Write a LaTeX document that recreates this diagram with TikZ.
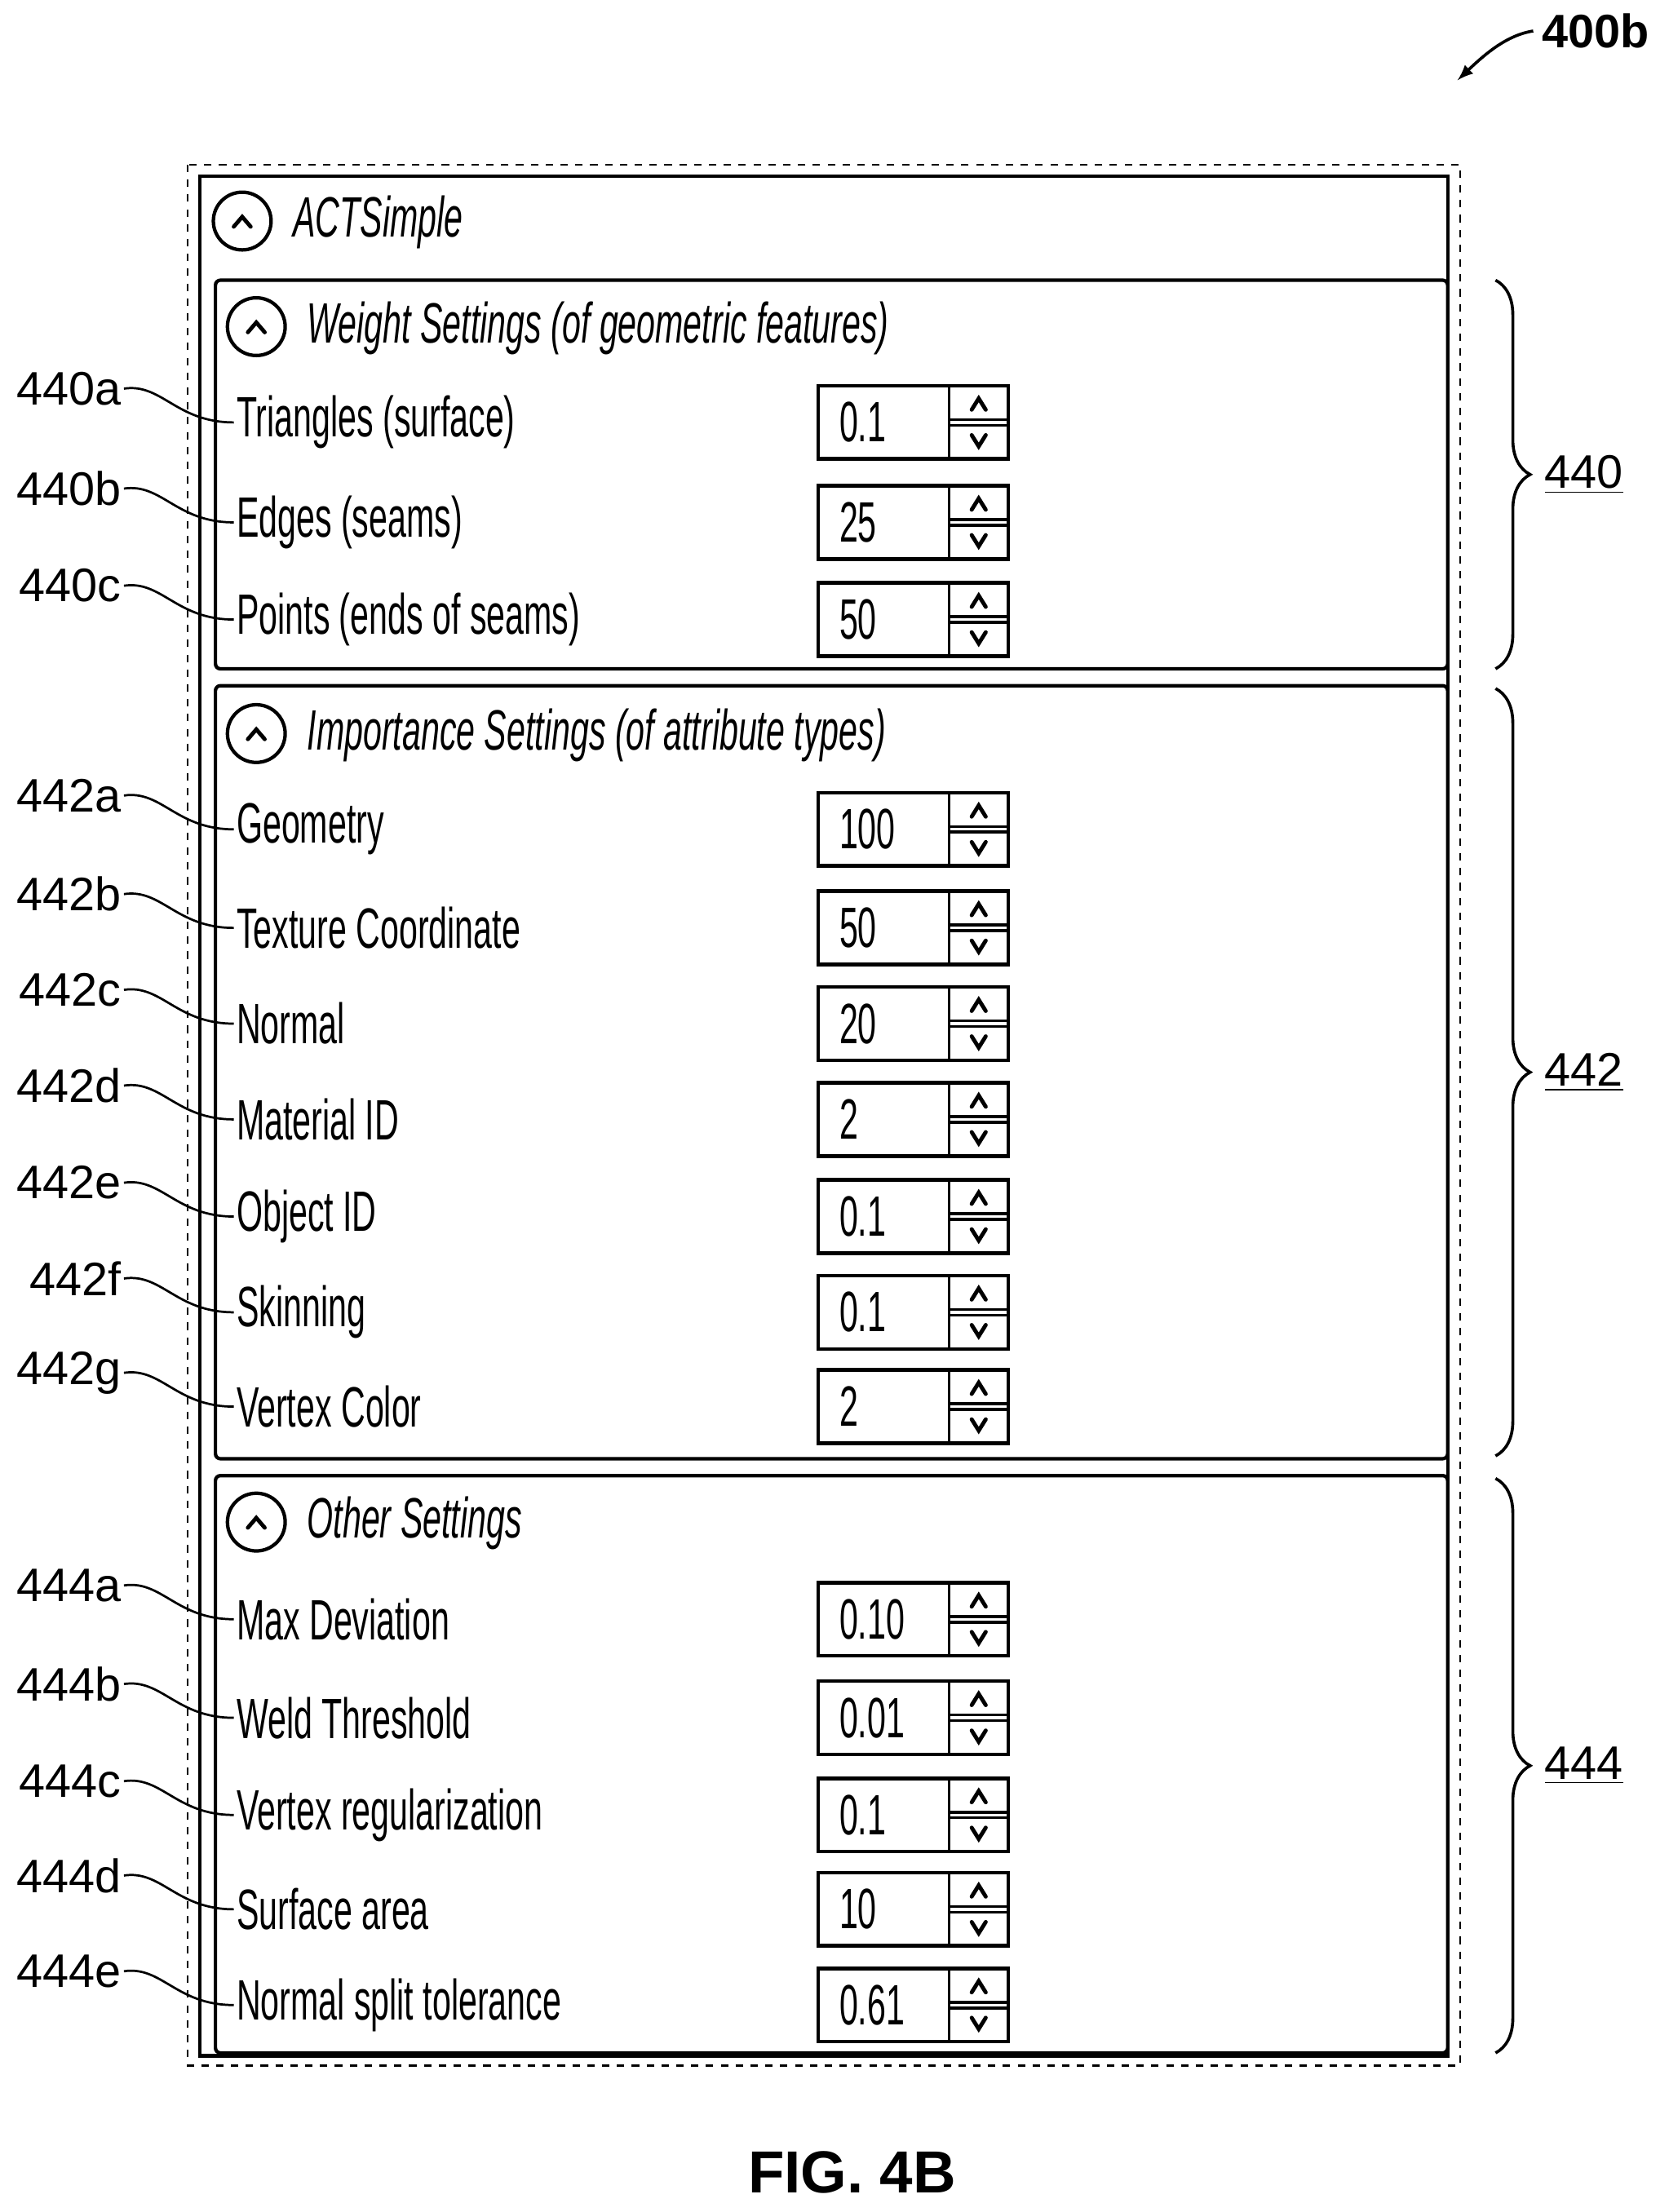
\documentclass[tikz,border=0pt]{standalone}
\usepackage{fontspec}
\setmainfont{Liberation Sans}
\newfontfamily\uifont[FakeStretch=0.59]{Liberation Sans}
\usetikzlibrary{calc}
\usetikzlibrary{positioning}
\usetikzlibrary{decorations.pathreplacing}

\begin{document}
\begin{tikzpicture}[
  x=0.02cm, y=-0.02cm,
  > = latex,
  panel/.style = {draw, line width=1.4pt, rounded corners=2pt},
  toggle/.style = {draw, circle, line width=1.4pt, inner sep=0pt, minimum size=0.82cm},
  caret/.style = {line width=1.6pt, line cap=round},
  heading/.style = {anchor=west, font=\uifont\itshape\fontsize{23}{25}\selectfont},
  field/.style = {anchor=west, font=\uifont\fontsize{23}{25}\selectfont, inner sep=1pt},
  refno/.style = {anchor=east, font=\fontsize{19}{22}\selectfont, inner sep=1pt},
  leader/.style = {line width=0.9pt},
  curly/.style = {decorate, decoration={brace, amplitude=14pt}, line width=1.2pt}
  ]
	\useasboundingbox (0,0) rectangle (1185,1571);

	% outer frames
	\draw[dashed, line width=0.7pt] (133,117) rectangle (1037,1467);
	\draw[line width=1.4pt] (142,125) rectangle (1028,1460);

	% panels
	\draw[panel] (153,199) rectangle (1028,475);
	\draw[panel] (153,487) rectangle (1028,1036);
	\draw[panel] (153,1048) rectangle (1028,1458);

	% headers with toggles
	\foreach \name/\x/\y/\txt in {main/172/157/ACTSimple,
	  440/182/232/Weight Settings (of geometric features),
	  442/182/521/Importance Settings (of attribute types),
	  444/182/1081/Other Settings} {
	  \node[toggle] (tg\name) at (\x,\y) {};
	  \draw[caret] (\x-6,\y+4) -- (\x,\y-3) -- (\x+6,\y+4);
	  \node[heading] (h\name) at (\x+30,\y+1) {\txt};
	}

	% rows: y / field / value / reference
	\foreach \y/\txt/\val/\rid in {
	  300/Triangles (surface)/0.1/440a,
	  371/Edges (seams)/25/440b,
	  440/Points (ends of seams)/50/440c,
	  589/Geometry/100/442a,
	  659/Texture Coordinate/50/442b,
	  727/Normal/20/442c,
	  795/Material ID/2/442d,
	  864/Object ID/0.1/442e,
	  932/Skinning/0.1/442f,
	  999/Vertex Color/2/442g,
	  1150/Max Deviation/0.10/444a,
	  1220/Weld Threshold/0.01/444b,
	  1289/Vertex regularization/0.1/444c,
	  1356/Surface area/10/444d,
	  1424/Normal split tolerance/0.61/444e} {
	  \node[field] (f\rid) at (166,\y) {\txt};
	  \draw[line width=1.5pt] (581,\y-26) rectangle (716,\y+26);
	  \draw[line width=1.2pt] (674,\y-26) -- (674,\y+26);
	  \draw[line width=1.2pt] (674,\y-2) -- (716,\y-2) (674,\y+2) -- (716,\y+2);
	  \node[field] (v\rid) at (594,\y) {\val};
	  \draw[caret] (690,\y-9) -- (695,\y-17) -- (700,\y-9);
	  \draw[caret] (690,\y+9) -- (695,\y+17) -- (700,\y+9);
	  \node[refno] (r\rid) at (88,\y-24) {\rid};
	  \draw[leader] (r\rid.east) .. controls (115,\y-28) and (125,\y) .. (f\rid.west);
	}

	% group braces
	\draw[curly] (1062,199) -- (1062,475) node[midway, right=16pt, font=\fontsize{19}{22}\selectfont] (g440) {\underline{440}};
	\draw[curly] (1062,489) -- (1062,1034) node[midway, right=16pt, font=\fontsize{19}{22}\selectfont] (g442) {\underline{442}};
	\draw[curly] (1062,1050) -- (1062,1458) node[midway, right=16pt, font=\fontsize{19}{22}\selectfont] (g444) {\underline{444}};

	% figure number
	\node[font=\bfseries\fontsize{19}{22}\selectfont] (fig) at (1133,22) {400b};
	\draw[->, line width=1.2pt] (fig.west) .. controls (1070,25) and (1055,38) .. (1035,57);
	\node[font=\bfseries\fontsize{24}{28}\selectfont] (cap) at (605,1543) {FIG. 4B};
\end{tikzpicture}
\end{document}
